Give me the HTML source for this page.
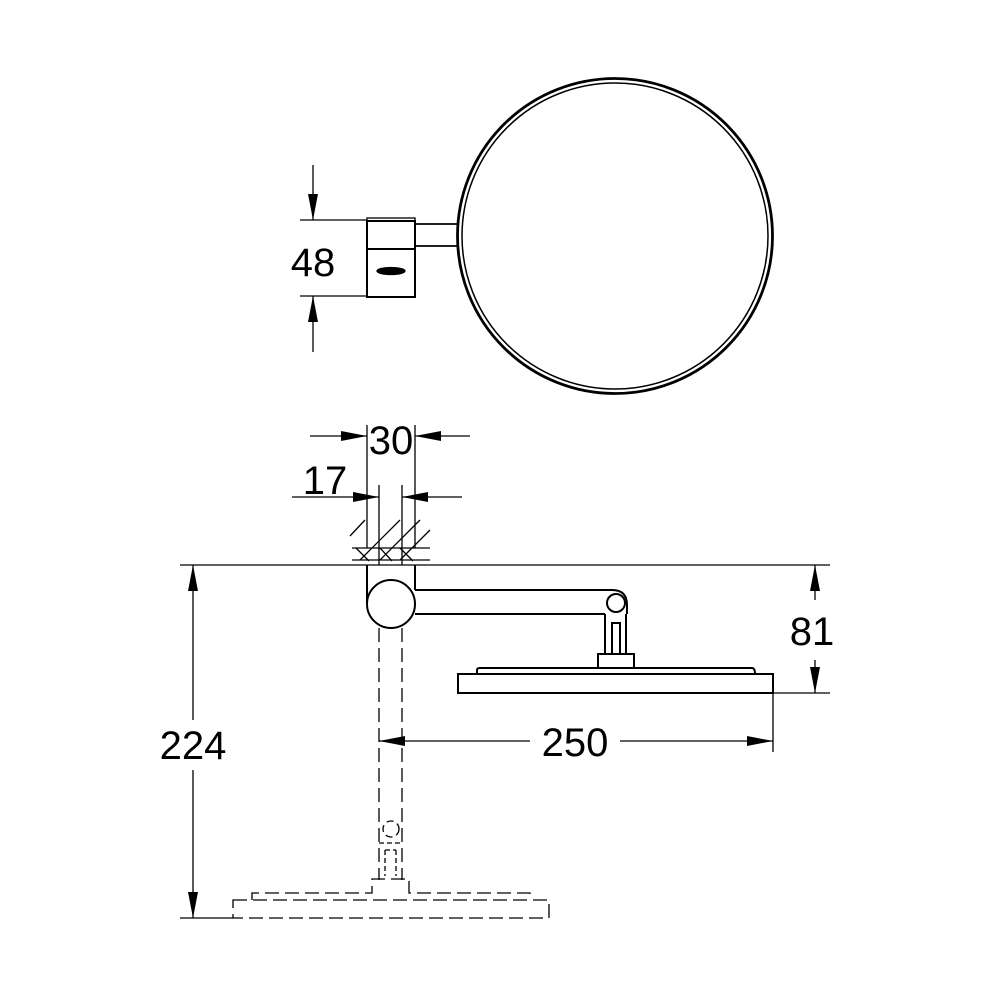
<!DOCTYPE html>
<html><head><style>html,body{margin:0;padding:0;background:#fff}svg{display:block}</style></head>
<body>
<svg width="990" height="990" viewBox="0 0 990 990" xmlns="http://www.w3.org/2000/svg">
<defs>
<marker id="a" viewBox="0 0 26 10" refX="26" refY="5" markerWidth="26" markerHeight="10" markerUnits="userSpaceOnUse" orient="auto"><path d="M0,0 L26,5 L0,10 z" fill="#000"/></marker>
</defs>
<g fill="none" stroke="#000" stroke-width="1.3">
<circle cx="615" cy="236" r="157.5" stroke-width="2.8"/>
<circle cx="615" cy="236" r="153" stroke-width="1.5"/>
<rect x="367" y="221" width="48" height="76" stroke-width="2"/>
<line x1="367" y1="249" x2="415" y2="249" stroke-width="2"/>
<rect x="367" y="218" width="48" height="3"/>
<path d="M415 224 H459 M415 246 H459" stroke-width="1.8"/>
<ellipse cx="391" cy="271" rx="14" ry="3.5" fill="#000"/>
<path d="M300 220 H367 M300 296 H367"/>
<line x1="313" y1="165" x2="313" y2="220" marker-end="url(#a)"/>
<line x1="313" y1="352" x2="313" y2="296" marker-end="url(#a)"/>
<line x1="180" y1="565" x2="830" y2="565"/>
<path d="M352 548 H430 M352 560 H430"/>
<path d="M350 536 L365 520 M360 560 L400 520 M380 560 L420 520 M400 560 L430 530 M356 548 L369 561 M380 548 L392 561 M400 548 L413 561"/>
<path d="M367 565 V604 M415 565 V590" stroke-width="2"/>
<circle cx="391" cy="604" r="24" stroke-width="2"/>
<path d="M415 590 H612 Q627 590 627 605 V614 M415 614 H605" stroke-width="2"/>
<circle cx="616" cy="603" r="9" stroke-width="2"/>
<path d="M605 614 V654 M626 614 V654 M612 654 V623 H620 V654" stroke-width="2"/>
<rect x="598" y="654" width="36" height="14" stroke-width="2"/>
<path d="M477 674 V670 Q477 668 480 668 H752 Q755 668 755 674" stroke-width="2"/>
<rect x="458" y="674" width="315" height="19" stroke-width="2"/>
<g stroke-dasharray="14,6">
<path d="M379 628 V880 M402 628 V880"/>
<rect x="233" y="900" width="316" height="18"/>
<path d="M252 900 V893 H372 V879 H409 V893 H530 V900"/>
</g>
<circle cx="391" cy="829" r="8" stroke-dasharray="7,4"/>
<path d="M379 843 H402 M385 850 V876 M396 850 V876 M385 850 H396" stroke-dasharray="5,3"/>
<path d="M367 425 V548 M415 425 V548 M379 485 V565 M402 485 V565"/>
<line x1="310" y1="436" x2="367" y2="436" marker-end="url(#a)"/>
<line x1="470" y1="436" x2="415" y2="436" marker-end="url(#a)"/>
<line x1="292" y1="497" x2="379" y2="497" marker-end="url(#a)"/>
<line x1="462" y1="497" x2="402" y2="497" marker-end="url(#a)"/>
<path d="M180 918 H233 M773 693 H830 M773 693 V752"/>
<line x1="193" y1="720" x2="193" y2="565" marker-end="url(#a)"/>
<line x1="193" y1="770" x2="193" y2="918" marker-end="url(#a)"/>
<line x1="815" y1="600" x2="815" y2="565" marker-end="url(#a)"/>
<line x1="815" y1="660" x2="815" y2="693" marker-end="url(#a)"/>
<line x1="530" y1="741" x2="379" y2="741" marker-end="url(#a)"/>
<line x1="620" y1="741" x2="773" y2="741" marker-end="url(#a)"/>
</g>
<g font-family="Liberation Sans, sans-serif" font-size="40" fill="#000" text-anchor="middle">
<text x="313" y="276">48</text>
<text x="391" y="454">30</text>
<text x="325" y="494">17</text>
<text x="193" y="759">224</text>
<text x="812" y="645">81</text>
<text x="575" y="756">250</text>
</g>
</svg>
</body></html>
